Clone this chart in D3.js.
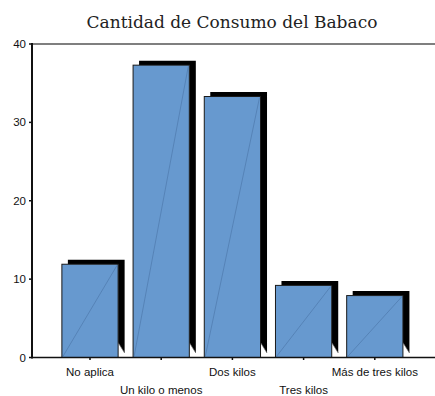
<!DOCTYPE html>
<html>
<head>
<meta charset="utf-8">
<script src="https://cdn.jsdelivr.net/npm/d3@7"></script>
<style>
  html, body { margin: 0; padding: 0; background: #fff; }
  svg { display: block; }
</style>
</head>
<body>
<svg id="chart" width="435" height="396"></svg>
<script>
// Consumo del babaco: porcentaje por categoría
const categories = ["No aplica", "Un kilo o menos", "Dos kilos", "Tres kilos", "Más de tres kilos"];
const values = [11.9, 37.3, 33.3, 9.2, 7.9];
const yTicks = [0, 10, 20, 30, 40];
const title = "Cantidad de Consumo del Babaco";

const svg = d3.select("#chart");
const plotLeft = 32, plotRight = 435, plotTop = 44, plotBottom = 357.5;

const x = d3.scaleBand()
  .domain(categories)
  .range([54.4, 410.4])
  .paddingInner(0.21)
  .paddingOuter(0.105);

const y = d3.scaleLinear().domain([0, 40]).range([plotBottom, plotTop]);

// título
svg.append("text")
  .attr("x", 232).attr("y", 28)
  .attr("text-anchor", "middle")
  .attr("font-family", "'DejaVu Serif', serif")
  .attr("font-size", 17)
  .attr("fill", "#222")
  .text(title);

// marco superior
svg.append("line")
  .attr("x1", plotLeft).attr("x2", plotRight)
  .attr("y1", plotTop).attr("y2", plotTop)
  .attr("stroke", "#555").attr("stroke-width", 1.5);

// barras con sombra
const dx = 6.5, dy = -4.5;
const g = svg.append("g");
categories.forEach((c, i) => {
  const x0 = x(c), x1 = x(c) + x.bandwidth();
  const yt = y(values[i]), yb = y(0);
  // cara posterior (sombra)
  g.append("path")
    .attr("d", `M${x0 + dx - 0.5},${yt + dy} L${x1 + dx},${yt + dy} L${x1 + dx},${yb + dy} L${x1},${yb - 15} L${x1},${yt} L${x0 + dx - 0.5},${yt} Z`)
    .attr("fill", "#000");
  g.append("line")
    .attr("x1", x1).attr("y1", yb - 15)
    .attr("x2", x1 + dx).attr("y2", yb + dy)
    .attr("stroke", "#666").attr("stroke-width", 0.7);
  // cara frontal
  g.append("rect")
    .attr("x", x0).attr("y", yt)
    .attr("width", x.bandwidth()).attr("height", yb - yt)
    .attr("fill", "#6799cf")
    .attr("stroke", "#1a1a1a").attr("stroke-width", 1);
  g.append("line")
    .attr("x1", x0 + 1).attr("y1", yb - 1)
    .attr("x2", x1 - 1).attr("y2", yt + 1)
    .attr("stroke", "#4a74a6").attr("stroke-width", 0.6);
});

// eje Y
const yAxis = svg.append("g");
yAxis.append("line")
  .attr("x1", plotLeft).attr("x2", plotLeft)
  .attr("y1", plotTop - 1).attr("y2", plotBottom + 1)
  .attr("stroke", "#111").attr("stroke-width", 2);
yTicks.forEach(t => {
  yAxis.append("line")
    .attr("x1", plotLeft - 3).attr("x2", plotLeft)
    .attr("y1", y(t)).attr("y2", y(t))
    .attr("stroke", "#111").attr("stroke-width", 1.5);
  yAxis.append("text")
    .attr("x", plotLeft - 6).attr("y", y(t) + 4)
    .attr("text-anchor", "end")
    .attr("font-family", "'Liberation Sans', Arial, sans-serif")
    .attr("font-size", 11.5)
    .attr("fill", "#111")
    .text(t);
});

// eje X
const xAxis = svg.append("g");
xAxis.append("line")
  .attr("x1", plotLeft).attr("x2", plotRight)
  .attr("y1", plotBottom).attr("y2", plotBottom)
  .attr("stroke", "#111").attr("stroke-width", 1.5);
categories.forEach((c, i) => {
  const cx = x(c) + x.bandwidth() / 2;
  xAxis.append("line")
    .attr("x1", cx).attr("x2", cx)
    .attr("y1", plotBottom).attr("y2", plotBottom + 2.5)
    .attr("stroke", "#111").attr("stroke-width", 1.5);
  xAxis.append("text")
    .attr("x", cx).attr("y", i % 2 === 0 ? 376 : 394)
    .attr("text-anchor", "middle")
    .attr("font-family", "'Liberation Sans', Arial, sans-serif")
    .attr("font-size", 11.5)
    .attr("fill", "#111")
    .text(c);
});
</script>
</body>
</html>
